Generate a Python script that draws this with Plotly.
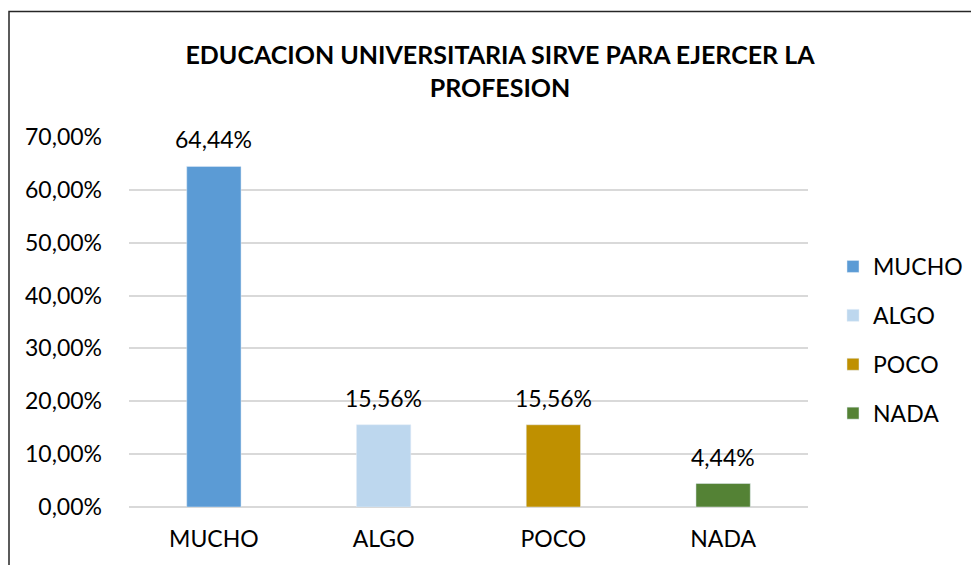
import plotly.graph_objects as go

categories = ["MUCHO", "ALGO", "POCO", "NADA"]
values = [64.44, 15.56, 15.56, 4.44]
labels = ["64,44%", "15,56%", "15,56%", "4,44%"]
colors = ["#5B9BD5", "#BDD7EE", "#BF9000", "#548235"]
tick_vals = [0, 10, 20, 30, 40, 50, 60, 70]
tick_text = ["0,00%", "10,00%", "20,00%", "30,00%", "40,00%", "50,00%", "60,00%", "70,00%"]
title_text = "EDUCACION UNIVERSITARIA SIRVE PARA EJERCER LA<br>PROFESION"

FONT = "Lato, Carlito, Calibri, sans-serif"
FS = 23

# page offset of 8px (body margin) accounted for in margins
L, T, R, B = 121, 129, 179, 66
PW, PH = 979 - L - R, 565 - T - B

fig = go.Figure()
for cat, val, col in zip(categories, values, colors):
    fig.add_trace(go.Bar(
        x=[cat], y=[val], name=cat, marker_color=col, width=0.32,
        legendgroup=cat, hoverinfo="skip",
    ))

annotations = []
for cat, val, lab in zip(categories, values, labels):
    annotations.append(dict(
        x=cat, y=val, text=lab, showarrow=False, xref="x", yref="y",
        yanchor="middle", yshift=27, font=dict(family=FONT, size=FS, color="#000"),
    ))

fig.update_layout(
    width=979, height=565,
    margin=dict(l=L, r=R, t=T, b=B),
    paper_bgcolor="white", plot_bgcolor="white",
    barmode="overlay",
    title=dict(text="<b>" + title_text + "</b>", x=492 / 979, xref="container", xanchor="center",
               y=1 - 56 / 565, yanchor="middle",
               font=dict(family=FONT, size=25, color="#000")),
    showlegend=True,
    legend=dict(x=(825 - L) / PW, xanchor="left", y=(565 - B - 332) / PH, yanchor="middle",
                font=dict(family=FONT, size=FS, color="#000"),
                tracegroupgap=16, itemwidth=30, bgcolor="rgba(0,0,0,0)"),
    annotations=annotations,
    font=dict(family=FONT, size=FS, color="#000"),
    shapes=[dict(type="rect", xref="paper", yref="paper",
                 x0=(1 - L) / PW, x1=(1000 - L) / PW,
                 y0=-(600 - (565 - B)) / PH, y1=(565 - B - 3.5) / PH,
                 line=dict(color="#262626", width=1.5), layer="above")],
)
fig.update_xaxes(showgrid=False, showline=False, ticks="", tickfont=dict(family=FONT, size=FS, color="#000"),
                 ticklabelstandoff=16, fixedrange=True)
fig.update_yaxes(range=[0, 70], tickvals=tick_vals, ticktext=tick_text, showgrid=True,
                 gridcolor="#D9D9D9", gridwidth=1.5, zeroline=True, zerolinecolor="#D9D9D9",
                 zerolinewidth=1.5, showline=False, ticks="",
                 tickfont=dict(family=FONT, size=FS, color="#000"), ticklabelstandoff=26)

fig.write_html("out.html")
